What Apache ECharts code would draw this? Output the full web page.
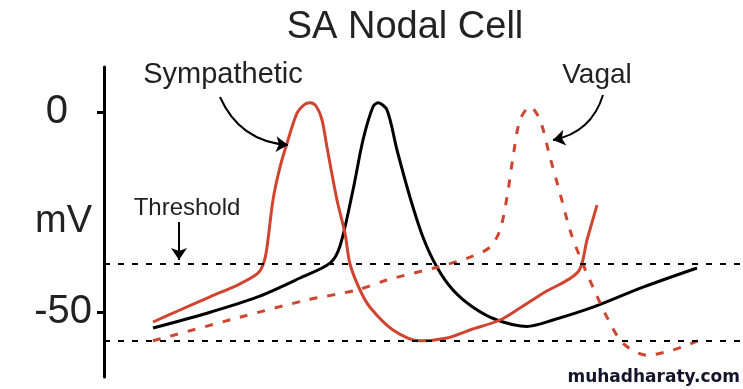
<!DOCTYPE html>
<html>
<head>
<meta charset="utf-8">
<script src="https://cdn.jsdelivr.net/npm/echarts@6/dist/echarts.min.js"></script>
<style>html,body{margin:0;padding:0;background:#fff}#c{width:743px;height:389px}</style>
</head>
<body>
<div id="c"></div>
<script>
// time (arbitrary units) and membrane potential (mV)
var controlT = [49,103,153,196,226,236,249,259,269,274,283,293,306,319,333,349,369,393,423,449,489,539,593];
var controlV = [-54,-50.3,-46.3,-41.5,-37.8,-33.5,-19.5,-7,1.3,2.3,0.5,-9.5,-21.3,-31.3,-38.8,-44.5,-48.8,-52,-53.6,-52,-48.8,-43.8,-39];
var sympT = [49,76,106,134,154,160,163,169,176,183,193,200,206,212,218,223,233,241,246,256,266,289,316,343,366,396,416,439,474,483,493];
var sympV = [-52.5,-49.5,-46.2,-43.2,-40.3,-37.5,-33.8,-22,-13.8,-7.8,-0.3,1.8,2.3,1.5,-2,-8.8,-22,-30.3,-38,-44.5,-48.8,-54.5,-57.2,-56.5,-54.5,-52,-49,-45.3,-40,-32,-23.3];
var vagalT = [49,136,203,253,283,333,366,386,396,403,409,416,426,436,446,456,466,476,489,503,519,543,569,596];
var vagalV = [-57.2,-51.3,-47,-44.5,-42,-38.8,-36.3,-33.8,-29.5,-21.3,-11.3,-2,1.3,-2,-11.3,-20.3,-29.5,-36.3,-43.8,-51.3,-57.8,-60.8,-59.5,-57];
var thresholdMV = -38;
var lowerMV = -57.25;
var yTicks = [0, -50];
var tickLabels = {'0': '0', '-50': '-50'};

function pairs(t, v) { return t.map(function (x, i) { return [x, v[i]]; }); }

var red = '#d04530';
var FF = 'Liberation Sans, Arial, sans-serif';
var chart = echarts.init(document.getElementById('c'));
chart.setOption({
  animation: false,
  grid: { left: 104, right: 0, top: 67, bottom: 12, containLabel: false, outerBoundsMode: 'none' },
  xAxis: { type: 'value', min: 0, max: 639, show: false },
  yAxis: {
    type: 'value', min: -66.25, max: 11.25,
    splitLine: { show: false },
    axisLine: { show: true, lineStyle: { color: '#000', width: 3 } },
    axisTick: { show: true, customValues: yTicks, length: 7, lineStyle: { color: '#000', width: 3 } },
    axisLabel: {
      customValues: yTicks, margin: 12,
      fontFamily: FF, fontSize: 40, color: '#222',
      formatter: function (v) { return v === 0 ? '{z|' + tickLabels['0'] + '}' : '{n|' + tickLabels[String(v)] + '}'; },
      rich: {
        z: { fontSize: 40, color: '#222', padding: [0, 24, 0, 0], fontFamily: FF },
        n: { fontSize: 40, color: '#222', fontFamily: FF }
      }
    },
    name: 'mV', nameLocation: 'middle', nameRotate: 0, nameGap: 12, nameMoveOverlap: false,
    nameTextStyle: { fontSize: 38, color: '#222', fontFamily: FF, align: 'right' }
  },
  graphic: [
    { type: 'text', x: 405, y: 28, style: { text: 'SA Nodal Cell', fontSize: 38, fill: '#222', fontFamily: FF, align: 'center', verticalAlign: 'middle' } },
    { type: 'text', x: 223, y: 75, style: { text: 'Sympathetic', fontSize: 29, fill: '#222', fontFamily: FF, align: 'center', verticalAlign: 'middle' } },
    { type: 'text', x: 597, y: 75, style: { text: 'Vagal', fontSize: 28, fill: '#222', fontFamily: FF, align: 'center', verticalAlign: 'middle' } },
    { type: 'text', x: 187, y: 208, style: { text: 'Threshold', fontSize: 24, fill: '#222', fontFamily: FF, align: 'center', verticalAlign: 'middle' } },
    { type: 'text', x: 740, y: 378, style: { text: 'muhadharaty.com', fontSize: 17, fontWeight: 'bold', fill: '#14142a', fontFamily: 'DejaVu Sans, sans-serif', align: 'right', verticalAlign: 'middle' } }
  ],
  series: [
    {
      type: 'line', name: 'Control', data: pairs(controlT, controlV), showSymbol: false, smooth: 0.3,
      lineStyle: { color: '#000', width: 3 }, z: 3,
      markLine: {
        silent: true, symbol: ['none', 'none'], label: { show: false },
        lineStyle: { color: '#000', width: 2, type: [6, 8] },
        data: [{ yAxis: thresholdMV }, { yAxis: lowerMV }]
      }
    },
    {
      type: 'line', name: 'Sympathetic', data: pairs(sympT, sympV), showSymbol: false, smooth: 0.3,
      lineStyle: { color: red, width: 3 }, z: 3
    },
    {
      type: 'line', name: 'Vagal', data: pairs(vagalT, vagalV), showSymbol: false, smooth: 0.3,
      lineStyle: { color: red, width: 3, type: [8, 10] }, z: 3
    },
    {
      type: 'lines', coordinateSystem: 'cartesian2d', symbol: ['none', 'arrow'], symbolSize: 12, z: 4,
      lineStyle: { color: '#000', width: 2, opacity: 1 },
      data: [
        { coords: [[116, 3.75], [184, -8.25]], lineStyle: { curveness: -0.3 } },
        { coords: [[499, 4.25], [449, -7]], lineStyle: { curveness: 0.3 } },
        { coords: [[75, -27.5], [75, -37]], lineStyle: { curveness: 0 } }
      ]
    }
  ]
});
</script>
</body>
</html>
